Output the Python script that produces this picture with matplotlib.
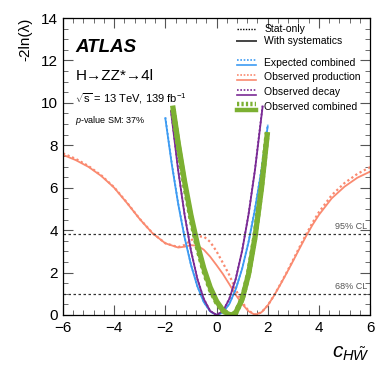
import matplotlib
matplotlib.use('Agg')
import matplotlib.pyplot as plt
from matplotlib.ticker import MultipleLocator

plt.rcParams['font.family'] = ['Liberation Sans', 'DejaVu Sans']
plt.rcParams['mathtext.fontset'] = 'custom'
plt.rcParams['mathtext.rm'] = 'Liberation Sans'
plt.rcParams['mathtext.it'] = 'Liberation Sans:italic'

# Expected combined
exp_x = [-2.0, -1.75, -1.5, -1.25, -1.0, -0.75, -0.5, -0.25, 0.0, 0.25, 0.5, 0.75, 1.0, 1.25, 1.5, 1.75, 2.0]
exp_y = [9.26, 7.11, 5.24, 3.66, 2.36, 1.35, 0.61, 0.17, 0.0, 0.12, 0.52, 1.21, 2.18, 3.43, 4.97, 6.79, 8.9]
exp_stat_y = [9.32, 7.16, 5.28, 3.69, 2.38, 1.36, 0.62, 0.17, 0.0, 0.12, 0.53, 1.22, 2.2, 3.46, 5.01, 6.85, 8.98]

# Observed production
prod_x = [-6.0, -5.5, -5.0, -4.5, -4.0, -3.5, -3.0, -2.5, -2.0, -1.5, -1.25, -1.0, -0.75, -0.5, -0.25,
          0.0, 0.25, 0.5, 0.75, 1.0, 1.25, 1.5, 1.75, 2.0, 2.25, 2.5, 2.75, 3.0, 3.25, 3.5, 3.75,
          4.0, 4.5, 5.0, 5.5, 6.0]
prod_y = [7.55, 7.3, 6.98, 6.55, 6.0, 5.28, 4.52, 3.85, 3.38, 3.18, 3.22, 3.29, 3.27, 3.08, 2.75,
          2.35, 1.93, 1.45, 0.95, 0.52, 0.18, 0.01, 0.12, 0.45, 0.92, 1.45, 2.0, 2.57, 3.15, 3.72, 4.25,
          4.72, 5.5, 6.05, 6.47, 6.76]
prod_stat_y = [7.62, 7.36, 7.02, 6.58, 6.02, 5.3, 4.53, 3.86, 3.38, 3.2, 3.3, 3.52, 3.7, 3.7, 3.45,
               3.0, 2.45, 1.88, 1.2, 0.6, 0.2, 0.02, 0.12, 0.45, 0.93, 1.47, 2.03, 2.62, 3.22, 3.8, 4.35,
               4.85, 5.65, 6.22, 6.65, 6.97]

# Observed decay
dec_x = [-1.78, -1.5, -1.25, -1.0, -0.75, -0.5, -0.25, 0.0, 0.25, 0.5, 0.75, 1.0, 1.25, 1.5, 1.8]
dec_y = [9.6, 6.82, 4.73, 3.03, 1.7, 0.76, 0.19, 0.0, 0.19, 0.76, 1.7, 3.03, 4.73, 6.82, 9.82]
dec_stat_y = [9.66, 6.86, 4.76, 3.05, 1.71, 0.77, 0.19, 0.0, 0.19, 0.77, 1.71, 3.05, 4.76, 6.86, 9.88]

# Observed combined
comb_x = [-1.7, -1.5, -1.25, -1.0, -0.75, -0.5, -0.25, 0.0, 0.25, 0.45, 0.59, 0.75, 1.0, 1.25, 1.5, 1.75, 1.98]
comb_y = [9.75, 8.12, 6.3, 4.7, 3.34, 2.21, 1.31, 0.65, 0.22, 0.04, 0.0, 0.11, 0.74, 1.92, 3.64, 5.92, 8.5]
comb_stat_y = [9.7, 8.0, 6.15, 4.55, 3.2, 2.1, 1.22, 0.6, 0.2, 0.04, 0.0, 0.11, 0.75, 1.95, 3.7, 6.0, 8.6]

cl_levels = [1.0, 3.84]
cl_labels = ['68% CL', '95% CL']

c_exp = '#3d9bf2'
c_prod = '#fa8a70'
c_dec = '#7a2a95'
c_comb = '#7cb032'

fig = plt.figure(figsize=(3.9, 3.75), dpi=100)
ax = fig.add_axes([0.1615, 0.16, 0.7875, 0.792])

ax.plot(prod_x, prod_y, color=c_prod, lw=1.3)
ax.plot(prod_x, prod_stat_y, color=c_prod, lw=1.6, ls=(0, (1, 1.2)))
ax.plot(exp_x, exp_y, color=c_exp, lw=1.3)
ax.plot(exp_x, exp_stat_y, color=c_exp, lw=1.3, ls=(0, (1, 1.2)))
ax.plot(dec_x, dec_y, color=c_dec, lw=1.3)
ax.plot(dec_x, dec_stat_y, color=c_dec, lw=1.3, ls=(0, (1, 1.2)))
ax.plot(comb_x, comb_stat_y, color=c_comb, lw=3.8, ls=(0, (0.6, 0.6)))
ax.plot(comb_x, comb_y, color=c_comb, lw=3.8)

for lev, lab in zip(cl_levels, cl_labels):
    ax.axhline(lev, color='#333333', lw=0.9, ls=(0, (2, 2)))
    ax.text(5.9, lev + 0.12, lab, ha='right', va='bottom', fontsize=6.5, color='#555555')

ax.set_xlim(-6, 6)
ax.set_ylim(0, 14)
ax.xaxis.set_major_locator(MultipleLocator(2))
ax.xaxis.set_minor_locator(MultipleLocator(0.4))
ax.yaxis.set_major_locator(MultipleLocator(2))
ax.yaxis.set_minor_locator(MultipleLocator(0.5))
ax.tick_params(which='both', direction='in', top=True, right=True, labelsize=11, color='#555555')
ax.tick_params(which='major', length=7)
ax.tick_params(which='minor', length=3.5)
ax.tick_params(axis='x', pad=4)
for s in ax.spines.values():
    s.set_linewidth(0.9)

ax.set_ylabel('-2ln(λ)', fontsize=11, loc='top', labelpad=6)
fig.text(0.9, 0.045, r'$c_{H\tilde{W}}$', fontsize=15, ha='center')

# labels
ax.text(0.04, 0.885, 'ATLAS', transform=ax.transAxes, fontsize=13.5, fontweight='bold', style='italic')
ax.text(0.04, 0.79, 'H→ZZ*→4l', transform=ax.transAxes, fontsize=11)
ax.text(0.04, 0.715, r'$\sqrt{\mathrm{s}}$ = 13 TeV, 139 fb$^{\mathrm{-1}}$', transform=ax.transAxes, fontsize=8)
ax.text(0.04, 0.645, r'$p$-value SM: 37%', transform=ax.transAxes, fontsize=6.5)

# legend
x0, x1, xt = 0.565, 0.63, 0.655
rows = [
    (0.962, 'Stat-only', [('k', 'dot', 1.0)]),
    (0.924, 'With systematics', [('#444444', 'solid', 1.4)]),
]
for y, lab, ls in rows:
    style = (0, (1, 1)) if ls[0][1] == 'dot' else '-'
    ax.plot([x0, x1], [y, y], transform=ax.transAxes, color=ls[0][0], lw=ls[0][2], ls=style, clip_on=False)
    ax.text(xt, y, lab, transform=ax.transAxes, fontsize=7.5, va='center')

entries = [
    (0.85, 'Expected combined', c_exp, 1.2),
    (0.80, 'Observed production', c_prod, 1.2),
    (0.75, 'Observed decay', c_dec, 1.2),
    (0.70, 'Observed combined', c_comb, 3.2),
]
for y, lab, col, lw in entries:
    off = 0.009 if lw < 2 else 0.011
    ax.plot([x0, x1], [y + off, y + off], transform=ax.transAxes, color=col, lw=lw,
            ls=(0, (1, 1)) if lw < 2 else (0, (0.5, 0.5)))
    ax.plot([x0, x1], [y - off, y - off], transform=ax.transAxes, color=col, lw=lw)
    ax.text(xt, y, lab, transform=ax.transAxes, fontsize=7.5, va='center')

fig.savefig('out.png', dpi=100)
